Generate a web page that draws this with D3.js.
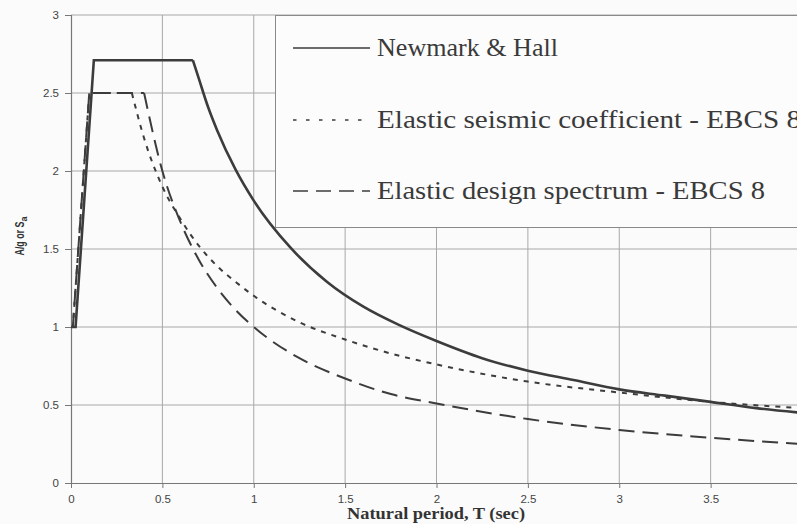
<!DOCTYPE html>
<html><head><meta charset="utf-8">
<script src="https://cdn.jsdelivr.net/npm/d3@7"></script>
<style>html,body{margin:0;padding:0;background:#fbfbfb;}svg{display:block;}</style>
</head><body>
<svg id="c" width="797" height="524"></svg>
<script>
// ---- data ----
const xTicks = [0, 0.5, 1, 1.5, 2, 2.5, 3, 3.5];
const yTicks = [0, 0.5, 1, 1.5, 2, 2.5, 3];
const xTickLabels = ["0", "0.5", "1", "1.5", "2", "2.5", "3", "3.5"];
const yTickLabels = ["0", "0.5", "1", "1.5", "2", "2.5", "3"];

const nhT   = [0, 0.025, 0.125, 0.667, 0.7, 0.75, 0.8, 0.9, 1.0, 1.2, 1.4, 1.6, 1.8, 2.0, 2.25, 2.5, 2.75, 3.0, 3.25, 3.5, 3.75, 4.0];
const nhVal = [1.0, 1.0, 2.71, 2.71, 2.59, 2.41, 2.26, 2.01, 1.81, 1.51, 1.29, 1.13, 1.01, 0.91, 0.80, 0.72, 0.66, 0.60, 0.56, 0.52, 0.48, 0.45];

const escT   = [0, 0.01, 0.10, 0.333, 0.4, 0.5, 0.6, 0.7, 0.8, 0.9, 1.0, 1.25, 1.5, 1.75, 2.0, 2.5, 3.0, 3.5, 4.0];
const escVal = [1.0, 1.0, 2.5, 2.5, 2.21, 1.90, 1.69, 1.52, 1.39, 1.29, 1.20, 1.03, 0.92, 0.83, 0.76, 0.65, 0.58, 0.52, 0.48];

const edsT   = [0, 0.01, 0.10, 0.40, 0.5, 0.6, 0.7, 0.8, 0.9, 1.0, 1.25, 1.5, 1.75, 2.0, 2.5, 3.0, 3.5, 4.0];
const edsVal = [1.0, 1.0, 2.5, 2.5, 2.0, 1.67, 1.43, 1.25, 1.11, 1.0, 0.80, 0.67, 0.57, 0.51, 0.41, 0.34, 0.29, 0.25];

const seriesNames = ["Newmark & Hall", "Elastic seismic coefficient - EBCS 8", "Elastic design spectrum - EBCS 8"];

// ---- drawing ----
const SERIF = "'Liberation Serif', 'Times New Roman', serif";
const SANS = "'Liberation Sans', Arial, sans-serif";
const svg = d3.select("#c");
const x = d3.scaleLinear().domain([0, 4]).range([71, 802]);
const y = d3.scaleLinear().domain([0, 3]).range([483, 15]);

const gridColor = "#a8a8a8";
svg.append("g").selectAll("line").data(xTicks.slice(1).concat([4])).join("line")
  .attr("x1", d => x(d)).attr("x2", d => x(d)).attr("y1", y(0)).attr("y2", y(3))
  .attr("stroke", gridColor).attr("stroke-width", 1);
svg.append("g").selectAll("line").data(yTicks.slice(1)).join("line")
  .attr("x1", x(0)).attr("x2", 797).attr("y1", d => y(d)).attr("y2", d => y(d))
  .attr("stroke", gridColor).attr("stroke-width", 1);

const xAxis = d3.axisBottom(x).tickValues(xTicks).tickFormat((d, i) => xTickLabels[i]).tickSize(5).tickPadding(7);
const yAxis = d3.axisLeft(y).tickValues(yTicks).tickFormat((d, i) => yTickLabels[i]).tickSize(6).tickPadding(6);
const gx = svg.append("g").attr("transform", `translate(0,${y(0)})`).call(xAxis);
const gy = svg.append("g").attr("transform", `translate(${x(0)},0)`).call(yAxis);
[gx, gy].forEach(g => {
  g.select(".domain").attr("stroke", "#777").attr("stroke-width", 1.2);
  g.selectAll(".tick line").attr("stroke", "#777");
  g.selectAll(".tick text").style("font-family", SANS).style("font-size", "11.5px").attr("fill", "#444");
});
gx.select(".domain").attr("d", `M${x(0)},0.5H797`);

const line = d3.line().x(d => x(d[0])).y(d => y(d[1])).curve(d3.curveMonotoneX);
const lineLin = d3.line().x(d => x(d[0])).y(d => y(d[1])).curve(d3.curveLinear);
const col = "#3c3c3c";
function draw(ts, vs, dash, w, breakIdx) {
  const pts = ts.map((t, i) => [t, vs[i]]);
  svg.append("path").attr("d", lineLin(pts.slice(0, breakIdx + 1)))
    .attr("fill", "none").attr("stroke", col).attr("stroke-width", w).attr("stroke-dasharray", dash);
  svg.append("path").attr("d", line(pts.slice(breakIdx)))
    .attr("fill", "none").attr("stroke", col).attr("stroke-width", w).attr("stroke-dasharray", dash);
}
draw(edsT, edsVal, "16,8", 2, 3);
draw(escT, escVal, "5,6", 2, 3);
draw(nhT, nhVal, null, 2.6, 3);

// legend
const lg = svg.append("g");
lg.append("rect").attr("x", 275.5).attr("y", 15.5).attr("width", 540).attr("height", 212)
  .attr("fill", "#fcfcfc").attr("stroke", "#8a8a8a").attr("stroke-width", 1);
const legY = [48, 120, 191];
const legDash = [null, "3.5,9.5", "15,8"];
const legLen = [181, 424, 388];
seriesNames.forEach((name, i) => {
  lg.append("line").attr("x1", 293).attr("x2", 370).attr("y1", legY[i]).attr("y2", legY[i])
    .attr("stroke", col).attr("stroke-width", 1.6).attr("stroke-dasharray", legDash[i]);
  lg.append("text").attr("x", 377).attr("y", legY[i] + 8).text(name)
    .attr("textLength", legLen[i]).attr("lengthAdjust", "spacingAndGlyphs")
    .style("font-family", SERIF).style("font-size", "25px").attr("fill", "#3a3a3a");
});

// axis titles
svg.append("text").attr("x", 347).attr("y", 519)
  .attr("textLength", 178).attr("lengthAdjust", "spacingAndGlyphs")
  .style("font-family", SERIF).style("font-weight", "bold").style("font-size", "16px")
  .attr("fill", "#333").text("Natural period, T (sec)");
const yt = svg.append("text").attr("transform", "translate(24,236) rotate(-90)").attr("text-anchor", "middle")
  .style("font-family", SANS).style("font-weight", "bold").style("font-size", "12.5px").attr("fill", "#333");
yt.append("tspan").attr("textLength", 34).attr("lengthAdjust", "spacingAndGlyphs").text("A/g or S");
yt.append("tspan").style("font-size", "9px").attr("dy", 3).text("a");
</script>
</body></html>
